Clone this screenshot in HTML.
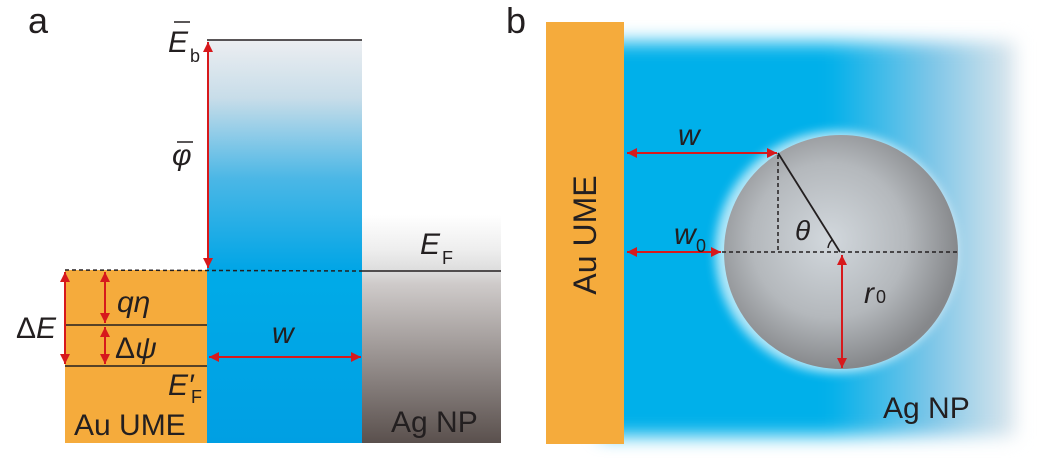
<!DOCTYPE html>
<html><head><meta charset="utf-8"><style>
html,body{margin:0;padding:0;background:#fff;}
svg{display:block;position:absolute;left:0;top:0;}
#bl{position:absolute;left:600px;top:42px;width:415px;height:394px;background:linear-gradient(to right,#00b0ea 0%,#00b0ea 55%,#7ec6e8 80%,#dde6ec 100%);filter:blur(9px);}
text{font-family:"Liberation Sans",sans-serif;fill:#231f20;}
.it{font-style:italic;}
</style></head><body>
<div id="bl"></div>
<svg width="1038" height="462" viewBox="0 0 1038 462" xmlns="http://www.w3.org/2000/svg">
<defs>
<linearGradient id="bar" x1="0" y1="0" x2="0" y2="1">
<stop offset="0" stop-color="#eceef1"/><stop offset="0.25" stop-color="#c8dde9"/><stop offset="0.6" stop-color="#4bb7e6"/><stop offset="1" stop-color="#00a5e6"/>
</linearGradient>
<linearGradient id="bar2" x1="0" y1="0" x2="0" y2="1">
<stop offset="0" stop-color="#00abe8"/><stop offset="1" stop-color="#009fe3"/>
</linearGradient>
<linearGradient id="ag" x1="0" y1="0" x2="0" y2="1">
<stop offset="0" stop-color="#ffffff"/><stop offset="0.15" stop-color="#eeeeee"/><stop offset="0.25" stop-color="#dcdcdc"/><stop offset="0.3" stop-color="#cfcbca"/><stop offset="1" stop-color="#5a504d"/>
</linearGradient>
<radialGradient id="ball" cx="0.45" cy="0.45" r="0.55">
<stop offset="0" stop-color="#d2d8dd"/><stop offset="0.6" stop-color="#b4b8bc"/><stop offset="1" stop-color="#86888b"/>
</radialGradient>
<filter id="glow" x="-20%" y="-20%" width="140%" height="140%"><feGaussianBlur stdDeviation="5"/></filter>
<marker id="ar2" viewBox="0 0 10 10" refX="10" refY="5" markerWidth="18" markerHeight="10" orient="auto-start-reverse" markerUnits="userSpaceOnUse"><path d="M0,0 L10,5 L0,10z" fill="#d7191c"/></marker>
</defs>

<!-- panel a -->
<text x="28" y="33" font-size="36">a</text>
<rect x="207" y="40" width="155" height="231" fill="url(#bar)"/>
<rect x="207" y="270" width="155" height="173" fill="url(#bar2)"/>
<rect x="362" y="215" width="139" height="228" fill="url(#ag)"/>
<rect x="65" y="270" width="142" height="173" fill="#f5ab3c"/>
<line x1="207" y1="40" x2="362" y2="40" stroke="#231f20" stroke-width="1.5"/>
<line x1="65" y1="270" x2="362" y2="271" stroke="#231f20" stroke-width="1.5" stroke-dasharray="4,3"/>
<line x1="362" y1="271" x2="501" y2="271" stroke="#231f20" stroke-width="1.5"/>
<line x1="65" y1="325" x2="207" y2="325" stroke="#231f20" stroke-width="1.5"/>
<line x1="65" y1="366" x2="207" y2="366" stroke="#231f20" stroke-width="1.5"/>
<g stroke="#d7191c" stroke-width="2" fill="none">
<line x1="208" y1="42" x2="208" y2="268" marker-start="url(#ar2)" marker-end="url(#ar2)"/>
<line x1="65" y1="272" x2="65" y2="364" marker-start="url(#ar2)" marker-end="url(#ar2)"/>
<line x1="105" y1="272" x2="105" y2="323" marker-start="url(#ar2)" marker-end="url(#ar2)"/>
<line x1="105" y1="327" x2="105" y2="364" marker-start="url(#ar2)" marker-end="url(#ar2)"/>
<line x1="209" y1="357" x2="361" y2="357" marker-start="url(#ar2)" marker-end="url(#ar2)"/>
</g>
<text x="168" y="52" font-size="30" class="it">E</text>
<line x1="174" y1="22" x2="190" y2="22" stroke="#231f20" stroke-width="1.5"/>
<text x="190" y="62" font-size="18">b</text>
<text x="172" y="165" font-size="30" class="it">φ</text>
<line x1="177" y1="142" x2="193" y2="142" stroke="#231f20" stroke-width="1.5"/>
<text x="420" y="254" font-size="30" class="it">E</text>
<text x="442" y="264" font-size="18">F</text>
<text x="117" y="312" font-size="30" class="it">qη</text>
<text x="16" y="338" font-size="30">Δ<tspan class="it">E</tspan></text>
<text x="115" y="358" font-size="30">Δ<tspan class="it">ψ</tspan></text>
<text x="168" y="395" font-size="30" class="it">E′</text>
<text x="191" y="403" font-size="18">F</text>
<text x="74" y="435" font-size="30">Au UME</text>
<text x="391" y="432" font-size="30">Ag NP</text>
<text x="272" y="343" font-size="30" class="it">w</text>

<!-- panel b -->
<text x="506" y="33" font-size="36">b</text>
<rect x="546" y="22" width="78" height="422" fill="#f5ab3c"/>
<circle cx="836" cy="252" r="121" fill="#ffffff" opacity="0.7" filter="url(#glow)"/>
<circle cx="841" cy="252" r="117" fill="url(#ball)"/>
<text transform="translate(596,235) rotate(-90)" font-size="32" text-anchor="middle">Au UME</text>
<line x1="722" y1="252" x2="958" y2="252" stroke="#231f20" stroke-width="1.5" stroke-dasharray="4,3"/>
<line x1="778" y1="155" x2="778" y2="250" stroke="#231f20" stroke-width="1.5" stroke-dasharray="4,3"/>
<line x1="778" y1="153" x2="840" y2="252" stroke="#231f20" stroke-width="1.8"/>
<path d="M828,248 A14,14 0 0 1 832,240" stroke="#231f20" stroke-width="1.5" fill="none"/>
<g stroke="#d7191c" stroke-width="2" fill="none">
<line x1="627" y1="153" x2="777" y2="153" marker-start="url(#ar2)" marker-end="url(#ar2)"/>
<line x1="627" y1="252" x2="721" y2="252" marker-start="url(#ar2)" marker-end="url(#ar2)"/>
<line x1="842" y1="255" x2="842" y2="368" marker-start="url(#ar2)" marker-end="url(#ar2)"/>
</g>
<text x="678" y="145" font-size="30" class="it">w</text>
<text x="674" y="244" font-size="30" class="it">w</text>
<text x="696" y="252" font-size="18">0</text>
<text x="795" y="240" font-size="28" class="it">θ</text>
<text x="864" y="303" font-size="30" class="it">r</text>
<text x="876" y="303" font-size="18">0</text>
<text x="883" y="418" font-size="30">Ag NP</text>
</svg>
</body></html>
